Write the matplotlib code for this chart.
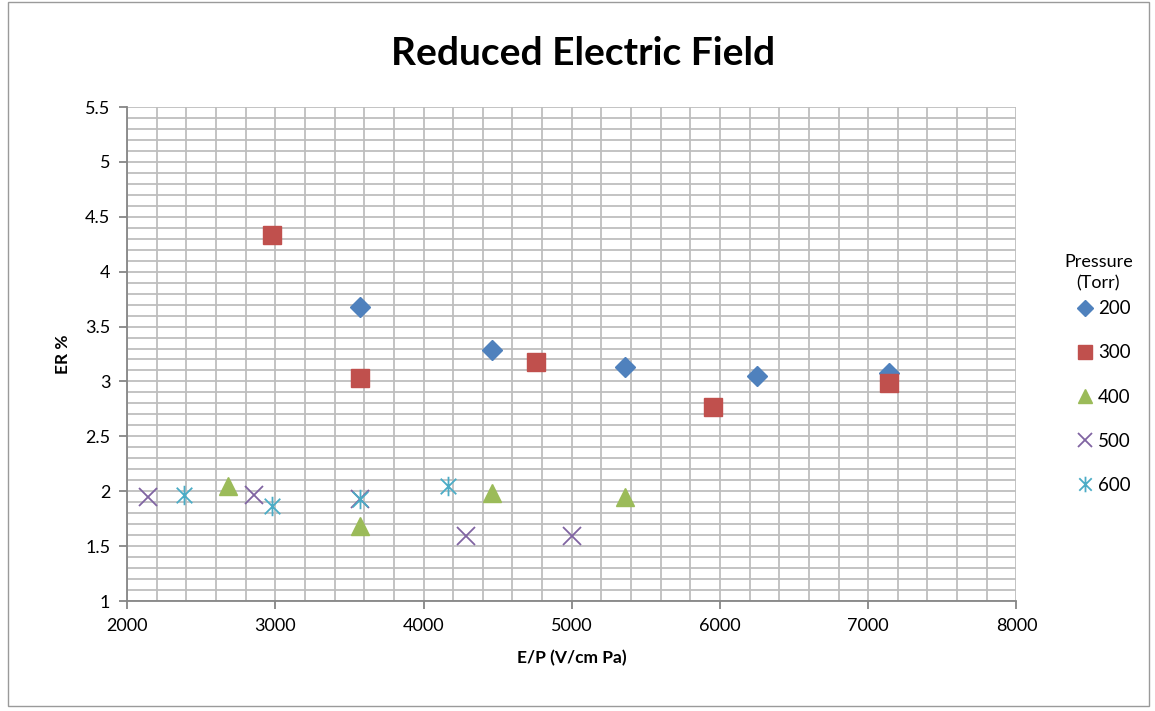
import matplotlib.pyplot as plt
from matplotlib.path import Path
from matplotlib.patches import Rectangle
from matplotlib.ticker import MultipleLocator

plt.rcParams['font.family'] = ['Lato', 'DejaVu Sans']

# E/P (V/cm Pa) and ER % for each pressure (Torr)
ep_200 = [3571, 4464, 5357, 6250, 7143]
er_200 = [3.68, 3.29, 3.13, 3.05, 3.08]
ep_300 = [2976, 3571, 4762, 5952, 7143]
er_300 = [4.33, 3.03, 3.18, 2.77, 2.99]
ep_400 = [2679, 3571, 4464, 5357]
er_400 = [2.05, 1.68, 1.98, 1.95]
ep_500 = [2143, 2857, 3571, 4286, 5000]
er_500 = [1.95, 1.97, 1.93, 1.59, 1.59]
ep_600 = [2381, 2976, 3571, 4167]
er_600 = [1.97, 1.87, 1.93, 2.05]

# star marker like the spreadsheet one: vertical bar plus an x
star = Path([(0, -1), (0, 1), (-0.8, -0.8), (0.8, 0.8), (-0.8, 0.8), (0.8, -0.8)],
            [Path.MOVETO, Path.LINETO, Path.MOVETO, Path.LINETO, Path.MOVETO, Path.LINETO])

fig = plt.figure(figsize=(11.55, 7.11), dpi=100)
ax = fig.add_axes([0.110, 0.1547, 0.770, 0.6948])

ax.plot(ep_200, er_200, ls='none', marker='D', ms=10, color='#4F81BD', label='200')
ax.plot(ep_300, er_300, ls='none', marker='s', ms=13, color='#C0504D', label='300')
ax.plot(ep_400, er_400, ls='none', marker='^', ms=13, color='#9BBB59', label='400')
ax.plot(ep_500, er_500, ls='none', marker='x', ms=13, mew=1.3, color='#8064A2', label='500')
ax.plot(ep_600, er_600, ls='none', marker=star, ms=14, mew=1.3, mfc='none',
        color='#4BACC6', label='600')

ax.set_xlim(2000, 8000)
ax.set_ylim(1, 5.5)
ax.xaxis.set_major_locator(MultipleLocator(1000))
ax.xaxis.set_minor_locator(MultipleLocator(200))
ax.yaxis.set_major_locator(MultipleLocator(0.5))
ax.yaxis.set_minor_locator(MultipleLocator(0.1))
ax.yaxis.set_major_formatter(plt.FuncFormatter(lambda v, p: f'{v:g}'))
ax.grid(which='both', color='#BEBEBE', lw=1.3)
ax.set_axisbelow(True)
for s in ['top', 'right']:
    ax.spines[s].set_visible(False)
for s in ['left', 'bottom']:
    ax.spines[s].set_color('#868686')
    ax.spines[s].set_linewidth(1.3)
ax.tick_params(which='major', direction='out', length=6, color='#868686', width=1.3,
               labelsize=13, pad=6)
ax.tick_params(which='minor', length=0)

ax.set_xlabel('E/P (V/cm Pa)', fontsize=12.5, fontweight='bold', labelpad=12)
ax.set_ylabel('ER %', fontsize=12.5, fontweight='bold', labelpad=10)
fig.text(0.505, 0.925, 'Reduced Electric Field', ha='center', va='center',
         fontsize=28, fontweight='bold')

# legend title drawn on its own so it can sit close to the entries
fig.text(0.951, 0.616, 'Pressure\n(Torr)', ha='center', va='center', fontsize=13,
         multialignment='center', linespacing=1.4)
fig.legend(loc='center left', bbox_to_anchor=(0.918, 0.4416), frameon=False,
           fontsize=13.5, handlelength=0.8, handletextpad=0.3, labelspacing=1.45,
           markerscale=0.8)

fig.patches.append(Rectangle((0.007, 0.007), 0.988, 0.99, transform=fig.transFigure,
                             fill=False, edgecolor='#9A9A9A', lw=1))

fig.savefig('out.png', dpi=100)
